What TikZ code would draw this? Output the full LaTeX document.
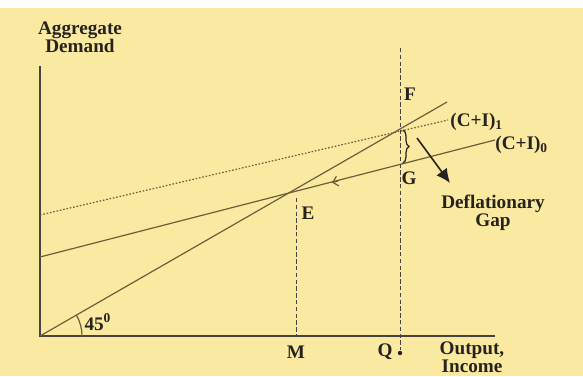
\documentclass[tikz,border=0pt]{standalone}
\usepackage{fontspec}
\setmainfont{Liberation Serif}
\usetikzlibrary{arrows.meta, positioning, calc, decorations.pathreplacing}
\definecolor{paper}{RGB}{250,233,160}
\definecolor{ink}{RGB}{38,34,30}
\definecolor{curve}{RGB}{105,95,60}

\begin{document}
\begin{tikzpicture}[
    x=0.5pt, y=-0.5pt,
    >=Stealth,
    font=\bfseries\fontsize{9.6}{9.2}\selectfont,
    lbl/.style={text=ink, inner sep=1pt, align=center},
    axisline/.style={semithick, ink!85},
    schedule/.style={semithick, curve},
    shifted/.style={schedule, dash pattern=on 0.8pt off 0.9pt},
    guide/.style={thin, ink!85, dash pattern=on 2.2pt off 1.2pt},
    gaparrow/.style={thick, ink, -{Latex[length=7pt, width=6.5pt]}},
]

% ============================================================
% Page
% ============================================================
\useasboundingbox (0,0) rectangle (583,376);
\fill[paper] (0,8) rectangle (583,376);
\fill[white] (0,0) rectangle (583,8);

% ============================================================
% Key points
% ============================================================
\coordinate (O)     at (40,336);
\coordinate (ytop)  at (40,66);
\coordinate (xend)  at (495,336);
\coordinate (diag)  at (447,102);
\coordinate (ci0a)  at (40,257);
\coordinate (ci0b)  at (495,140);
\coordinate (ci1a)  at (40,215);
\coordinate (ci1b)  at (448,120);
\coordinate (qtop)  at (400,48);
\coordinate (qbot)  at (400,350);
\coordinate (mtop)  at (296,198);
\coordinate (mbot)  at (296,336);
\coordinate (gtop)  at (403,130);
\coordinate (gbot)  at (403,163);

% ============================================================
% Axes
% ============================================================
\draw[axisline] (ytop) -- (O) -- (xend);

% ============================================================
% 45 degree line and expenditure schedules
% ============================================================
\draw[schedule] (O) -- (diag);
\draw[schedule] (ci0a) -- (ci0b);
\draw[shifted] (ci1a) -- (ci1b);
\draw[schedule] (O) ++(21pt,0) arc[start angle=0, end angle=30, radius=21pt];
\draw[schedule, -{Straight Barb[length=2.5pt, width=5pt]}] (338,181) -- (332,182.6);

% ============================================================
% Guides to the output axis
% ============================================================
\draw[guide] (qtop) -- (qbot);
\draw[guide] (mtop) -- (mbot);
\fill[ink] (qbot) ++(0,3) circle (1.1pt);

% ============================================================
% Deflationary gap
% ============================================================
\draw[ink, semithick, decorate, decoration={brace, amplitude=3pt}] (gtop) -- (gbot);
\coordinate (gapfrom) at (417,138);
\coordinate (gapto)   at (450,183);
\draw[gaparrow] (gapfrom) -- (gapto);

% ============================================================
% Labels
% ============================================================
\node[lbl] (ad)    at (80,37)  {Aggregate\\Demand};
\node[lbl] (out)   at (472,357) {Output,\\Income};
\node[lbl] (gap)   at (493,213) {Deflationary\\Gap};
\node[lbl] (ptF)   at (410,94)  {F};
\node[lbl] (ptG)   at (409,178) {G};
\node[lbl] (ptE)   at (308,213) {E};
\node[lbl] (ptM)   at (296,352) {M};
\node[lbl] (ptQ)   at (385,352) {Q};
\node[lbl] (ang)   at (98,322)  {45\textsuperscript{0}};
\node[lbl, anchor=west] (ci1) at (448,122) {(C+I)$_{\mathbf 1}$};
\node[lbl, anchor=west] (ci0) at (493,145) {(C+I)$_{\mathbf 0}$};

\end{tikzpicture}
\end{document}
